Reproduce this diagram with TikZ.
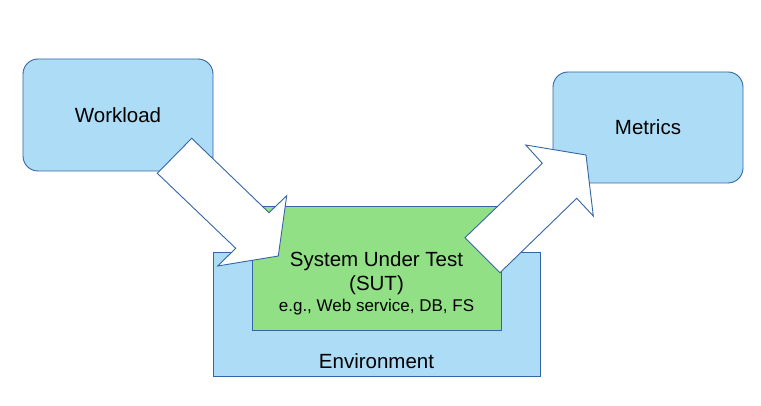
\documentclass[tikz,border=0pt]{standalone}
\usepackage{fontspec}
\setmainfont{Liberation Sans}
\definecolor{LineBlue}{HTML}{3465A4}
\definecolor{BoxBlue}{HTML}{ADDCF6}
\definecolor{SutGreen}{HTML}{92E086}
\usepackage{tikz}

\begin{document}
\begin{tikzpicture}[x=1pt, y=-1pt,
                box/.style={draw=LineBlue, line width=0.9pt, fill=BoxBlue,
                            inner sep=0pt, font=\fontsize{20.5}{24}\selectfont},
                roundbox/.style={box, rounded corners=15pt},
                blockarrow/.style={draw=LineBlue, line width=0.9pt, fill=white,
                                   line join=miter}]
    \useasboundingbox (0,0) rectangle (761,406);

    \node[roundbox, minimum width=190pt, minimum height=112pt] (work) at (118,115)   {Workload};
    \node[roundbox, minimum width=190pt, minimum height=111pt] (metr) at (648,127.5) {Metrics};
    \node[box, minimum width=327pt, minimum height=124pt]      (env)  at (376.5,314) {};
    \node[box, fill=SutGreen, minimum width=249pt, minimum height=124pt] (sut) at (376.5,268) {};

    \node[font=\fontsize{20.5}{24}\selectfont] (envlab) at (376.5,361) {Environment};
    \node[align=center, font=\fontsize{20.5}{24}\selectfont] (sutlab) at (376.5,283.5)
        {System Under Test\\(SUT)\\[-3pt]{\fontsize{17}{20}\selectfont e.g., Web service, DB, FS}};

    % block arrows
    \draw[blockarrow] (191.7,138.3) -- (269,212.7) -- (286.7,195.7) -- (278.3,256)
        -- (217.7,266) -- (235.7,248.3) -- (157.3,173.3) -- cycle;
    \draw[blockarrow] (465,237.7) -- (542.3,163.3) -- (525.7,145) -- (586,155)
        -- (593.3,216) -- (576.7,198.3) -- (500,272.7) -- cycle;
\end{tikzpicture}
\end{document}
